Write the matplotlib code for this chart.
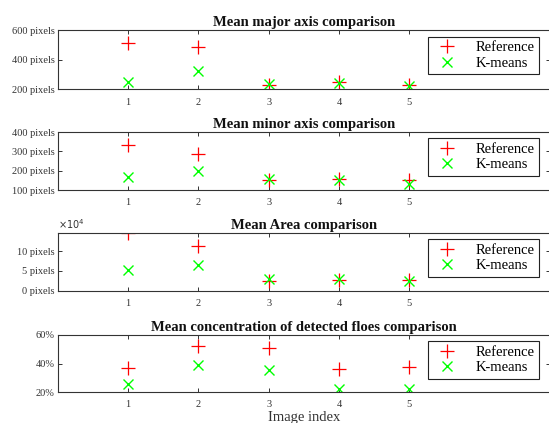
import matplotlib
matplotlib.use("Agg")
import matplotlib.pyplot as plt

# image index on the x axis
image_idx = [1, 2, 3, 4, 5]

# mean major axis (pixels)
major_ref = [516, 489, 227, 250, 228]
major_km = [252, 326, 238, 245, 222]

# mean minor axis (pixels)
minor_ref = [333, 286, 150, 156, 150]
minor_km = [169, 198, 158, 152, 131]

# mean area (pixels)
area_ref = [146000, 113000, 24000, 27000, 27000]
area_km = [52000, 66000, 28000, 28000, 25000]

# mean concentration (%)
conc_ref = [36.8, 52.4, 50.6, 36.0, 37.2]
conc_km = [25.5, 38.8, 35.2, 22.4, 22.2]

titles = ["Mean major axis comparison", "Mean minor axis comparison",
          "Mean Area comparison", "Mean concentration of detected floes comparison"]
yticks = [[200, 400, 600], [100, 200, 300, 400], [0, 50000, 100000], [20, 40, 60]]
yticklabels = [["200 pixels", "400 pixels", "600 pixels"],
               ["100 pixels", "200 pixels", "300 pixels", "400 pixels"],
               ["0 pixels", "5 pixels", "10 pixels"],
               ["20%", "40%", "60%"]]
ylims = [(200, 600), (100, 400), (0, 146000), (20, 60)]
legend_labels = ["Reference", "K-means"]

plt.rcParams['font.family'] = ['Liberation Serif', 'DejaVu Serif']
gray = '#333333'

fig = plt.figure(figsize=(5.49, 4.23), dpi=100)
H = 423.0
# (top, bottom) pixel rows of each panel
rows = [(30.3, 89.3), (132, 190), (233, 290.5), (335, 392)]
left = 57.5 / 549
width = 1.002 - left

series = [(major_ref, major_km), (minor_ref, minor_km),
          (area_ref, area_km), (conc_ref, conc_km)]

for i, (top, bot) in enumerate(rows):
    ax = fig.add_axes([left, 1 - bot / H, width, (bot - top) / H])
    ref, km = series[i]
    ax.plot(image_idx, ref, '+', color=(1, 0, 0), markersize=10, markeredgewidth=0.9,
            label=legend_labels[0], linestyle='none')
    ax.plot(image_idx, km, 'x', color=(0, 1, 0), markersize=7, markeredgewidth=1.0,
            label=legend_labels[1], linestyle='none')
    ax.set_xlim(0, 7)
    ax.set_ylim(*ylims[i])
    ax.set_xticks(image_idx)
    ax.set_xticklabels([str(v) for v in image_idx])
    ax.set_yticks(yticks[i])
    ax.set_yticklabels(yticklabels[i])
    ax.tick_params(direction='in', length=3, width=0.7, colors=gray,
                   labelsize=7.5, top=True, right=True)
    ax.tick_params(axis='x', pad=6)
    ax.tick_params(axis='y', pad=2)
    for sp in ax.spines.values():
        sp.set_color(gray)
        sp.set_linewidth(0.8)
    ax.set_title(titles[i], fontsize=10.5, fontweight='bold', pad=3, color='#111111')
    leg = ax.legend(loc='upper right', bbox_to_anchor=(0.978, 0.89), fontsize=10.5,
                    fancybox=False, framealpha=1, edgecolor='#222222',
                    borderpad=0.3, labelspacing=0.15, handlelength=2.1,
                    handletextpad=0.9, borderaxespad=0, markerscale=1.05)
    leg.get_frame().set_linewidth(0.8)
    if i == 2:
        ax.text(0, 1.04, r'$\times10^4$', transform=ax.transAxes, fontsize=7,
                color=gray, ha='left', va='bottom', family='DejaVu Serif')
    if i == 3:
        ax.set_xlabel("Image index", fontsize=10.5, color=gray, labelpad=1)

fig.savefig("out.png", dpi=100)
